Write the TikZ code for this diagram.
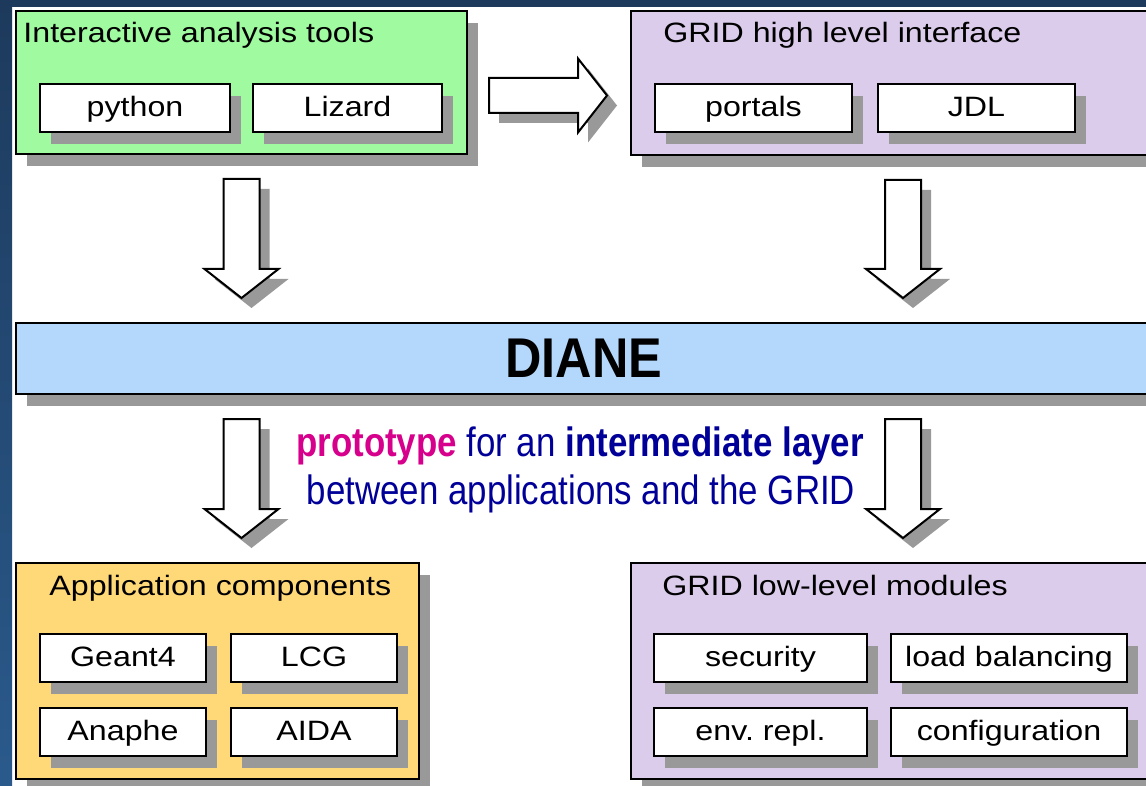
\documentclass[tikz,border=0pt]{standalone}
\usepackage{fontspec}
\setmainfont{Liberation Sans}
\newfontfamily\scatolafont[FakeStretch=1.15]{Liberation Sans}
\newfontfamily\dianefont[FakeStretch=0.9]{Liberation Sans}
\newfontfamily\strettofont[FakeStretch=0.85]{Liberation Sans}
\usetikzlibrary{calc,positioning,shadows}

\definecolor{verdino}{RGB}{160,250,160}
\definecolor{lilla}{RGB}{220,204,236}
\definecolor{giallino}{RGB}{255,216,120}
\definecolor{azzurrino}{RGB}{180,216,252}
\definecolor{ombra}{RGB}{153,153,153}
\definecolor{notte}{RGB}{29,58,92}
\definecolor{notteb}{RGB}{42,90,140}
\definecolor{fucsia}{RGB}{214,0,140}
\definecolor{blunotte}{RGB}{0,0,153}

\newcommand{\scatola}{\scatolafont\fontsize{14pt}{16pt}\selectfont}

\begin{document}
\begin{tikzpicture}[
    x=0.5pt, y=-0.5pt,
    conombra/.style={drop shadow={shadow xshift=5.5pt,shadow yshift=-6pt,fill=ombra,opacity=1}},
    gruppo/.style={draw,line width=1pt,conombra,anchor=north west,inner sep=0pt},
    modulo/.style={draw,fill=white,line width=1pt,conombra,anchor=north west,
      minimum height=24pt,inner sep=0pt,text height=10pt,text depth=1.5pt,font=\scatola},
    titolo/.style={anchor=base west,inner sep=0pt,font=\scatola},
    riga/.style={anchor=base,inner sep=0pt,text=blunotte,font=\strettofont\fontsize{20.5pt}{24pt}\selectfont},
    freccia/.style={draw,fill=white,line width=1pt,line join=miter,
      drop shadow={shadow xshift=5pt,shadow yshift=-5pt,fill=ombra,opacity=1}},
    frecciaV/.style={freccia,to path={
      ($(\tikztostart)+(-18,0)$) -- ($(\tikztostart)+(18,0)$)
      -- ($(\tikztotarget)+(18,-29)$) -- ($(\tikztotarget)+(37,-29)$)
      -- (\tikztotarget)
      -- ($(\tikztotarget)+(-37,-29)$) -- ($(\tikztotarget)+(-18,-29)$) -- cycle}},
    frecciaH/.style={freccia,to path={
      ($(\tikztostart)+(0,-17.5)$) -- ($(\tikztotarget)+(-29,-17.5)$)
      -- ($(\tikztotarget)+(-29,-37)$) -- (\tikztotarget)
      -- ($(\tikztotarget)+(-29,37)$) -- ($(\tikztotarget)+(-29,17.5)$)
      -- ($(\tikztostart)+(0,17.5)$) -- cycle}}]

  \useasboundingbox (0,0) rectangle (1146,786);
  \clip (0,0) rectangle (1146,786);

  % ---- sfondo ----------------------------------------------------------------
  \fill[white] (0,0) rectangle (1146,786);
  \fill[notte] (0,0) rectangle (1146,7);
  \shade[top color=notte,bottom color=notteb] (0,0) rectangle (12,786);

  % ---- riquadri in alto -----------------------------------------------------
  \node[gruppo,fill=verdino,minimum width=225.5pt,minimum height=71.5pt] (tools) at (15,10) {};
  \node[titolo] (toolsT) at (23,43) {Interactive analysis tools};
  \node[modulo,minimum width=95pt] (python) at (39,83) {python};
  \node[modulo,minimum width=94.5pt] (lizard) at (252,83) {Lizard};

  \node[gruppo,fill=lilla,minimum width=272pt,minimum height=72pt] (hli) at (630,10) {};
  \node[titolo] (hliT) at (663,43) {GRID high level interface};
  \node[modulo,minimum width=98.5pt] (portals) at (654,83) {portals};
  \node[modulo,minimum width=98.5pt] (jdl) at (877,83) {JDL};

  % ---- barra centrale -------------------------------------------------------
  \node[gruppo,fill=azzurrino,minimum width=568pt,minimum height=35.5pt,
        font=\dianefont\bfseries\fontsize{28pt}{30pt}\selectfont] (diane) at (15,322) {DIANE};

  \node[riga] (riga1) at (580,456)
    {\textcolor{fucsia}{\textbf{prototype}} for an \textbf{intermediate layer}};
  \node[riga] (riga2) at (581,504) {between applications and the GRID};

  % ---- riquadri in basso ----------------------------------------------------
  \node[gruppo,fill=giallino,minimum width=201.5pt,minimum height=108pt] (app) at (15,562) {};
  \node[titolo] (appT) at (49,595) {Application components};
  \node[modulo,minimum width=83pt] (geant) at (39,633) {Geant4};
  \node[modulo,minimum width=83pt,right=11.5pt of geant] (lcg) {LCG};
  \node[modulo,minimum width=83pt,below=12pt of geant] (anaphe) {Anaphe};
  \node[modulo,minimum width=83pt,below=12pt of lcg] (aida) {AIDA};

  \node[gruppo,fill=lilla,minimum width=272pt,minimum height=108pt] (low) at (630,562) {};
  \node[titolo] (lowT) at (662,595) {GRID low-level modules};
  \node[modulo,minimum width=106.5pt] (security) at (653,633) {security};
  \node[modulo,minimum width=118pt,right=11pt of security] (balance) {load balancing};
  \node[modulo,minimum width=106.5pt,below=12pt of security] (envrepl) {env.\ repl.};
  \node[modulo,minimum width=118pt,below=12pt of balance] (config) {configuration};

  % ---- frecce ---------------------------------------------------------------
  \coordinate (g1) at ($(tools.south)+(0,24)$);
  \coordinate (g2) at ($(g1 |- diane.north)+(0,-24)$);
  \coordinate (g3) at ($(hli.south)+(0,24)$);
  \coordinate (g4) at ($(g3 |- diane.north)+(0,-24)$);
  \coordinate (g5) at ($(g1 |- diane.south)+(0,24)$);
  \coordinate (g6) at ($(g1 |- app.north)+(0,-24)$);
  \coordinate (g7) at ($(g3 |- diane.south)+(0,24)$);
  \coordinate (g8) at ($(g3 |- low.north)+(0,-24)$);
  \coordinate (o1) at ($(tools.east)+(21,13)$);
  \coordinate (o2) at ($(o1 -| hli.west)+(-23,0)$);

  \draw[frecciaH] (o1) to (o2);
  \draw[frecciaV] (g1) to (g2);
  \draw[frecciaV] (g3) to (g4);
  \draw[frecciaV] (g5) to (g6);
  \draw[frecciaV] (g7) to (g8);

\end{tikzpicture}
\end{document}
